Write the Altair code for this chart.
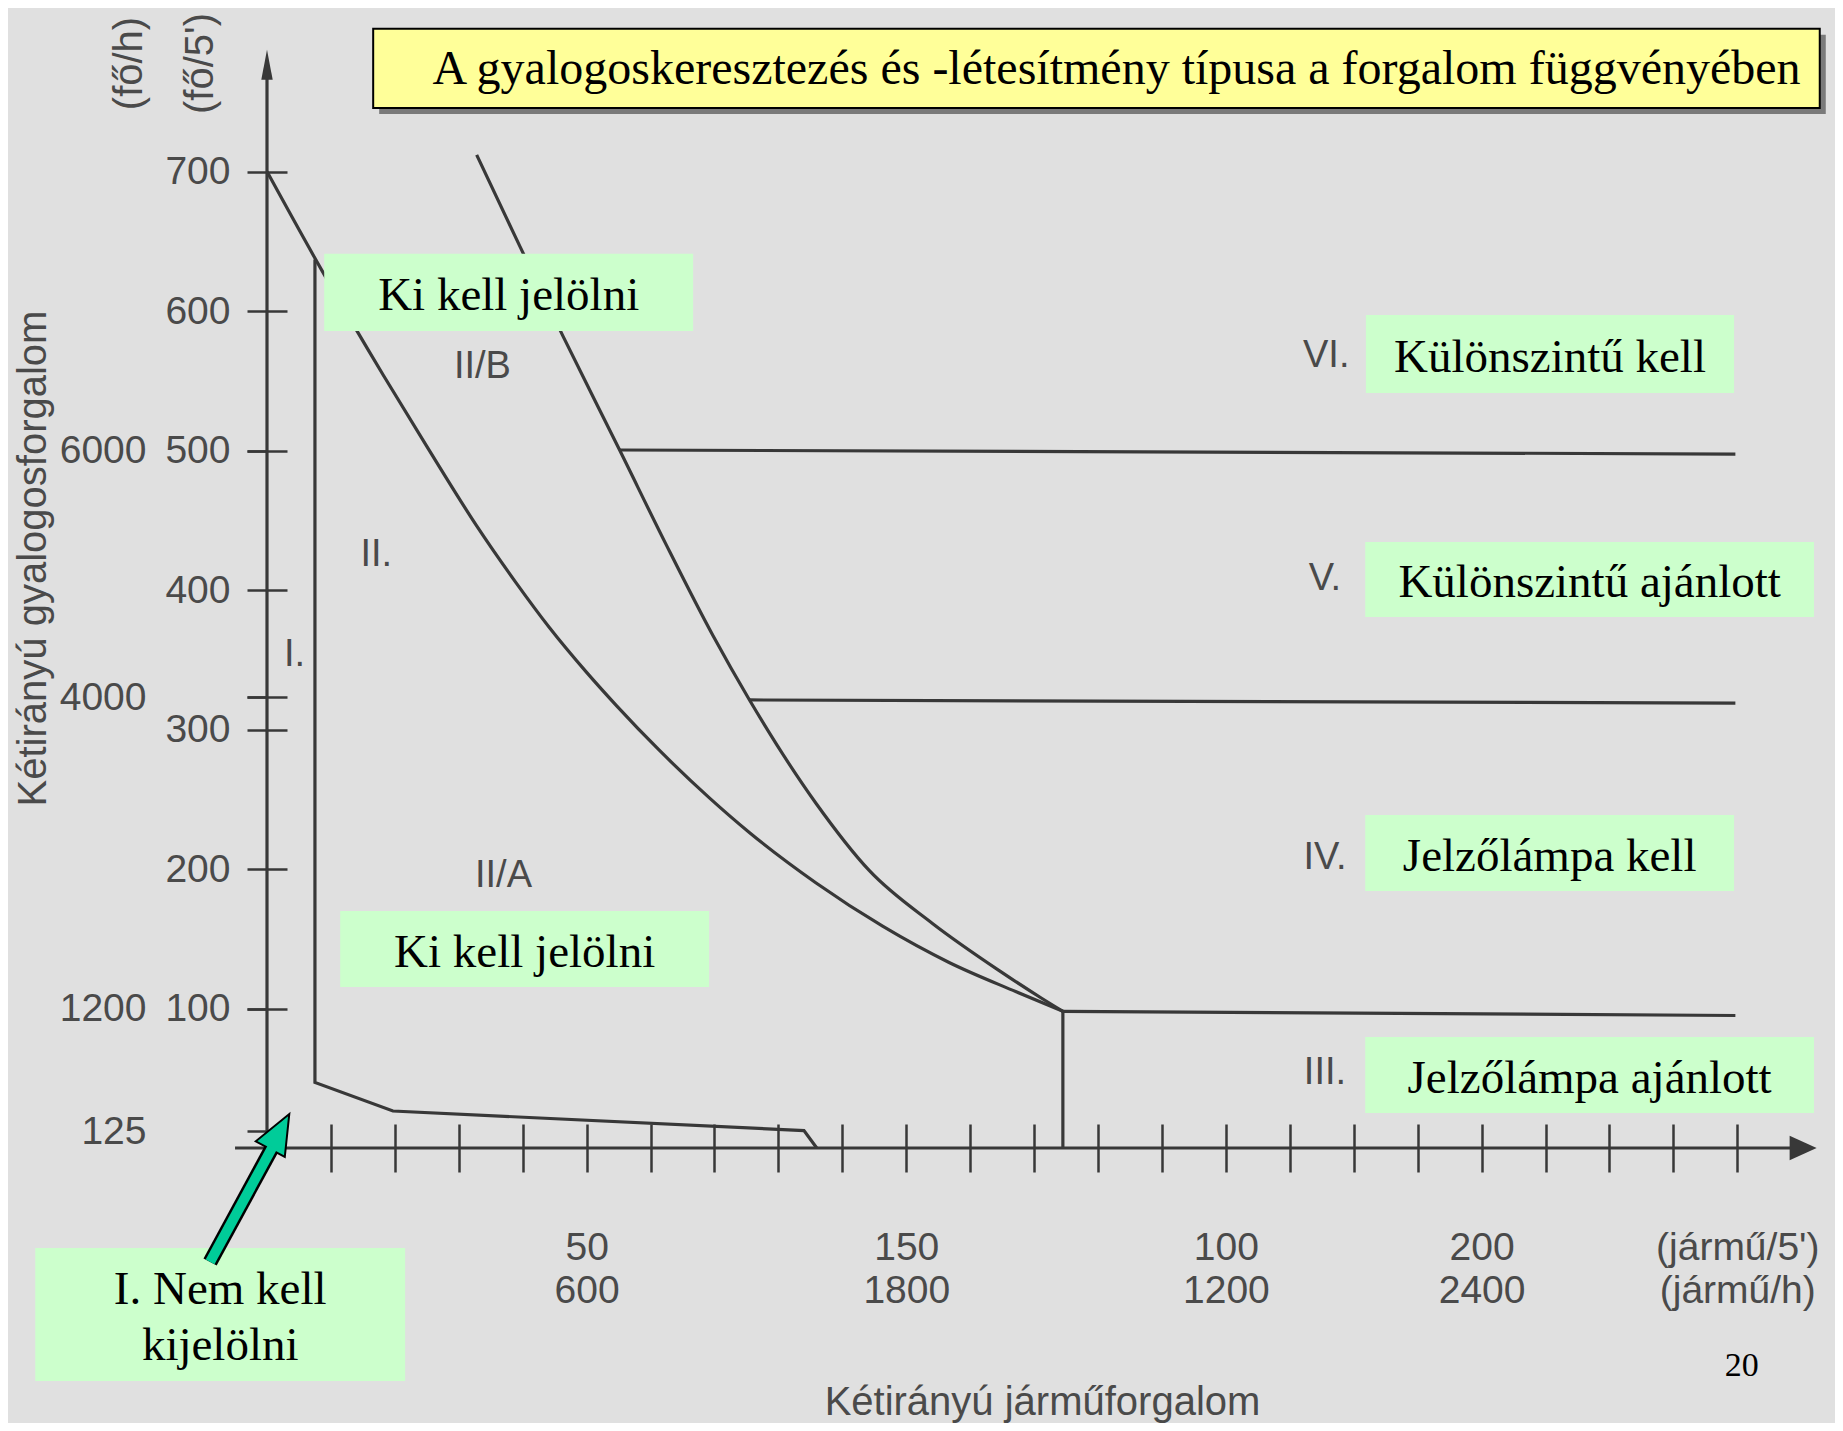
import json
import altair as alt
import pandas as pd

# ---------------- geometry of the reference (px per data unit) ----------------
KX = 63.94      # px per x-axis tick step
KY = 1.3948     # px per 1 fő/5'
X_MAX = 24.2
Y_MAX = 785
W = round(X_MAX * KX)
H = round(Y_MAX * KY)

INK = "#383838"
GRAY_TEXT = "#4a4a4a"
BG = "#e0e0e0"
GREEN = "#ccffcc"
YELLOW = "#ffff99"
TEAL = "#00cc99"
SANS = "Liberation Sans"
SERIF = "Liberation Serif"

# ---------------- data ----------------
# x in tick steps (0 = y axis), y in fő/5'
curve_a_x = [0, 0.86, 1.82, 2.5, 3.28, 3.9, 4.42, 5.0, 5.47, 6.14, 6.92, 7.55, 8.59, 9.63, 10.67, 11.72, 12.45]
curve_a_y = [700, 629, 554, 503, 446, 405, 373, 341, 317, 285, 251, 226, 190, 159, 133, 112, 98]

curve_b_x = [3.28, 3.96, 4.63, 5.52, 6.25, 6.98, 7.55, 8.59, 9.42, 10.41, 11.46, 12.13, 12.45]
curve_b_y = [712, 646, 582, 500, 432, 367, 321, 247, 199, 161, 127, 107, 98]

boundary_i_x = [0.75, 0.75, 1.97, 8.4, 8.6]
boundary_i_y = [637, 47, 26.5, 12.5, 0]

h500_x = [5.52, 22.97]
h500_y = [500.4, 497.5]
h320_x = [7.55, 22.97]
h320_y = [321.2, 319]
h100_x = [12.45, 22.97]
h100_y = [98, 95]
v_line_x = [12.45, 12.45]
v_line_y = [98, 0]

y_axis_line_x = [0, 0]
y_axis_line_y = [0, 776]
x_axis_line_x = [-0.5, 24.0]
x_axis_line_y = [0, 0]

# axis ticks / labels
y_tick_values = [100, 200, 300, 400, 500, 600, 700, 323]
y2_values = [500, 323, 100, 12]
y2_labels = ["6000", "4000", "1200", "125"]
x_tick_values = list(range(1, 24))
x_label_ticks = [5, 10, 15, 19, 23]
x_label_top = ["50", "150", "100", "200", "(jármű/5')"]
x_label_bottom = ["600", "1800", "1200", "2400", "(jármű/h)"]

# region numerals
roman_text = ["I.", "II.", "II/B", "II/A", "VI.", "V.", "IV.", "III."]
roman_x = [0.43, 1.71, 3.37, 3.70, 16.57, 16.55, 16.55, 16.55]
roman_y = [353.5, 425, 560, 195, 567.8, 408, 208, 53.8]

# green annotation boxes (single line)
box_text = ["Ki kell jelölni", "Ki kell jelölni", "Különszintű kell", "Különszintű ajánlott",
            "Jelzőlámpa kell", "Jelzőlámpa ajánlott"]
box_x1 = [0.895, 1.145, 17.19, 17.18, 17.18, 17.18]
box_x2 = [6.666, 6.916, 22.95, 24.2, 22.95, 24.2]
box_y1 = [641, 169.9, 597.2, 434.5, 238.7, 79.6]
box_y2 = [585.7, 115.4, 541.3, 380.7, 184.3, 25.1]

# two-line box under the axes
note_text = "I. Nem kell\nkijelölni"
note_x1, note_x2, note_y1, note_y2 = -3.625, 2.161, -71.7, -167

# title banner
title_text = "A gyalogoskeresztezés és -létesítmény típusa a forgalom függvényében"
title_x1, title_x2, title_y1, title_y2 = 1.661, 24.29, 802.3, 745.6
title_cx, title_cy = 13.29, 772.5
shadow_dx, shadow_dy = 0.094, -4.3

# page number
page_text = "20"
page_x, page_y = 23.07, -156.3

# teal pointer arrow (from box to origin)
arrow_base = (-0.89, -81.7)
arrow_shaft_end = (0.09, 1.0)
arrow_head = (0.2, 11.8)
arrow_angle = 28.4

# axis arrowheads
y_arrow = (0, 776.5)
x_arrow = (24.03, 0)

# ---------------- scales & axes ----------------
xs = alt.Scale(domain=[0, X_MAX], nice=False, zero=False)
ys = alt.Scale(domain=[0, Y_MAX], nice=False, zero=False)

x_expr = "''"
for v, a, b in reversed(list(zip(x_label_ticks, x_label_top, x_label_bottom))):
    x_expr = f"datum.value == {v} ? [{json.dumps(a, ensure_ascii=False)}, {json.dumps(b, ensure_ascii=False)}] : {x_expr}"

y2_expr = "''"
for v, lab in reversed(list(zip(y2_values, y2_labels))):
    y2_expr = f"datum.value == {v} ? {json.dumps(lab)} : {y2_expr}"

common_axis = dict(grid=False, domain=False, labelFont=SANS, labelFontSize=39,
                   labelColor=GRAY_TEXT, titleFont=SANS, titleFontSize=40,
                   titleFontWeight="normal", titleColor=GRAY_TEXT,
                   tickColor=INK, tickWidth=2.5, labelOverlap=False, labelFlush=False)

x_axis = alt.Axis(values=x_tick_values, labelExpr=x_expr, orient="bottom", offset=-24,
                  tickSize=48, labelPadding=56, labelLineHeight=43, labelBaseline="top",
                  labelAlign="center", title="Kétirányú járműforgalom",
                  titleX=775, titleY=278, titleAlign="center", titleBaseline="middle",
                  **common_axis)

y_axis = alt.Axis(values=y_tick_values, labelExpr="datum.value == 323 ? '' : datum.label",
                  orient="left", offset=-20, tickSize=40, labelPadding=17,
                  labelAlign="right", labelBaseline="middle",
                  title="(fő/5')", titleX=-86.8, titleY=10, titleAngle=270,
                  titleAlign="center", titleBaseline="middle", **common_axis)

y2_axis = alt.Axis(values=y2_values, labelExpr=y2_expr, orient="left", offset=0,
                   tickSize=20, labelPadding=101, labelAlign="right", labelBaseline="middle",
                   title="(fő/h)", titleX=-137.8, titleY=10, titleAngle=270,
                   titleAlign="center", titleBaseline="middle", **common_axis)

y3_axis = alt.Axis(orient="left", offset=0, ticks=False, labels=False,
                   title="Kétirányú gyalogosforgalom", titleX=-233.8, titleY=505,
                   titleAngle=270, titleAlign="center", titleBaseline="middle",
                   **common_axis)


def X(field="x", **kw):
    return alt.X(f"{field}:Q", scale=xs, axis=x_axis, **kw)


def Y(field="y", **kw):
    return alt.Y(f"{field}:Q", scale=ys, axis=y_axis, **kw)


def series_df(name, xv, yv):
    return pd.DataFrame({"x": xv, "y": yv, "s": name, "i": range(len(xv))})


# ---------------- layers ----------------
curves = pd.concat([series_df("A", curve_a_x, curve_a_y),
                    series_df("B", curve_b_x, curve_b_y)])
straights = pd.concat([series_df("I", boundary_i_x, boundary_i_y),
                       series_df("h500", h500_x, h500_y),
                       series_df("h320", h320_x, h320_y),
                       series_df("h100", h100_x, h100_y),
                       series_df("v", v_line_x, v_line_y),
                       series_df("yax", y_axis_line_x, y_axis_line_y),
                       series_df("xax", x_axis_line_x, x_axis_line_y)])

curve_layer = alt.Chart(curves).mark_line(color=INK, strokeWidth=3.2, interpolate="monotone").encode(
    x=X(), y=Y(), detail="s:N", order="i:Q")
straight_layer = alt.Chart(straights).mark_line(color=INK, strokeWidth=3.2, strokeJoin="miter").encode(
    x=X(), y=Y(), detail="s:N", order="i:Q")

y_head = alt.Chart(pd.DataFrame({"x": [y_arrow[0]], "y": [y_arrow[1]]})).mark_point(
    shape="M0,-1L0.38,1L-0.38,1Z", size=900, filled=True, color=INK, opacity=1).encode(x=X(), y=Y())
x_head = alt.Chart(pd.DataFrame({"x": [x_arrow[0]], "y": [x_arrow[1]]})).mark_point(
    shape="M1,0L-1,0.9L-1,-0.9Z", size=729, filled=True, color=INK, opacity=1).encode(x=X(), y=Y())

roman_df = pd.DataFrame({"x": roman_x, "y": roman_y, "t": roman_text})
roman_layer = alt.Chart(roman_df).mark_text(font=SANS, fontSize=38, color=GRAY_TEXT,
                                            align="center", baseline="middle").encode(
    x=X(), y=Y(), text="t:N")

boxes_df = pd.DataFrame({"x": box_x1 + [note_x1], "x2": box_x2 + [note_x2],
                         "y": box_y1 + [note_y1], "y2": box_y2 + [note_y2]})
box_layer = alt.Chart(boxes_df).mark_rect(color=GREEN, opacity=1).encode(
    x=X(), x2="x2:Q", y=Y(), y2="y2:Q")

labels_df = pd.DataFrame({"x": box_x1, "x2": box_x2, "y": box_y1, "y2": box_y2, "t": box_text})
labels_df["cx"] = (labels_df["x"] + labels_df["x2"]) / 2
labels_df["cy"] = (labels_df["y"] + labels_df["y2"]) / 2
box_text_layer = alt.Chart(labels_df).mark_text(font=SERIF, fontSize=47, color="black",
                                                align="center", baseline="middle", dy=4).encode(
    x=X("cx"), y=Y("cy"), text="t:N")

note_df = pd.DataFrame({"cx": [(note_x1 + note_x2) / 2], "cy": [(note_y1 + note_y2) / 2],
                        "t": [note_text]})
note_text_layer = alt.Chart(note_df).mark_text(font=SERIF, fontSize=47, color="black",
                                               align="center", baseline="middle",
                                               lineBreak="\n", lineHeight=56, dy=-24).encode(
    x=X("cx"), y=Y("cy"), text="t:N")

title_df = pd.DataFrame({"x": [title_x1], "x2": [title_x2], "y": [title_y1], "y2": [title_y2],
                         "cx": [title_cx], "cy": [title_cy], "t": [title_text]})
shadow_df = pd.DataFrame({"x": [title_x1 + shadow_dx], "x2": [title_x2 + shadow_dx],
                          "y": [title_y1 + shadow_dy], "y2": [title_y2 + shadow_dy]})
shadow_layer = alt.Chart(shadow_df).mark_rect(color="#7a7a7a", opacity=1).encode(
    x=X(), x2="x2:Q", y=Y(), y2="y2:Q")
title_box = alt.Chart(title_df).mark_rect(color=YELLOW, stroke="black", strokeWidth=2, opacity=1).encode(
    x=X(), x2="x2:Q", y=Y(), y2="y2:Q")
title_txt = alt.Chart(title_df).mark_text(font=SERIF, fontSize=48, color="black",
                                          align="center", baseline="middle").encode(
    x=X("cx"), y=Y("cy"), text="t:N")

page_layer = alt.Chart(pd.DataFrame({"x": [page_x], "y": [page_y], "t": [page_text]})).mark_text(
    font=SERIF, fontSize=34, color="black", align="center", baseline="middle").encode(
    x=X(), y=Y(), text="t:N")

shaft_df = pd.DataFrame({"x": [arrow_base[0]], "x2": [arrow_shaft_end[0]],
                         "y": [arrow_base[1]], "y2": [arrow_shaft_end[1]]})
shaft_outline = alt.Chart(shaft_df).mark_rule(color="black", strokeWidth=15, strokeCap="butt").encode(
    x=X(), x2="x2:Q", y=Y(), y2="y2:Q")
head_layer = alt.Chart(pd.DataFrame({"x": [arrow_head[0]], "y": [arrow_head[1]]})).mark_point(
    shape="M0,-1L0.825,1L-0.825,1Z", size=1600, angle=arrow_angle, filled=True,
    color=TEAL, stroke="black", strokeWidth=2, opacity=1).encode(x=X(), y=Y())
shaft_fill = alt.Chart(shaft_df).mark_rule(color=TEAL, strokeWidth=10, strokeCap="butt").encode(
    x=X(), x2="x2:Q", y=Y(), y2="y2:Q")

main = alt.layer(curve_layer, straight_layer, y_head, x_head, roman_layer,
                 box_layer, box_text_layer, note_text_layer, shadow_layer, title_box, title_txt,
                 page_layer, shaft_outline, head_layer, shaft_fill)

carrier = pd.DataFrame({"v": [0, Y_MAX]})
y2_layer = alt.Chart(carrier).mark_point(opacity=0).encode(
    y=alt.Y("v:Q", scale=ys, axis=y2_axis))
y3_layer = alt.Chart(carrier).mark_point(opacity=0).encode(
    y=alt.Y("v:Q", scale=ys, axis=y3_axis))

chart = alt.layer(main, y2_layer, y3_layer).resolve_scale(y="independent").properties(
    width=W, height=H,
    autosize=alt.AutoSizeParams(type="none"),
    padding={"left": 259, "top": 45, "right": 21, "bottom": 275},
    background=BG,
).configure_view(stroke=None)

chart.save("out.html", embed_options={"renderer": "svg", "actions": False})
